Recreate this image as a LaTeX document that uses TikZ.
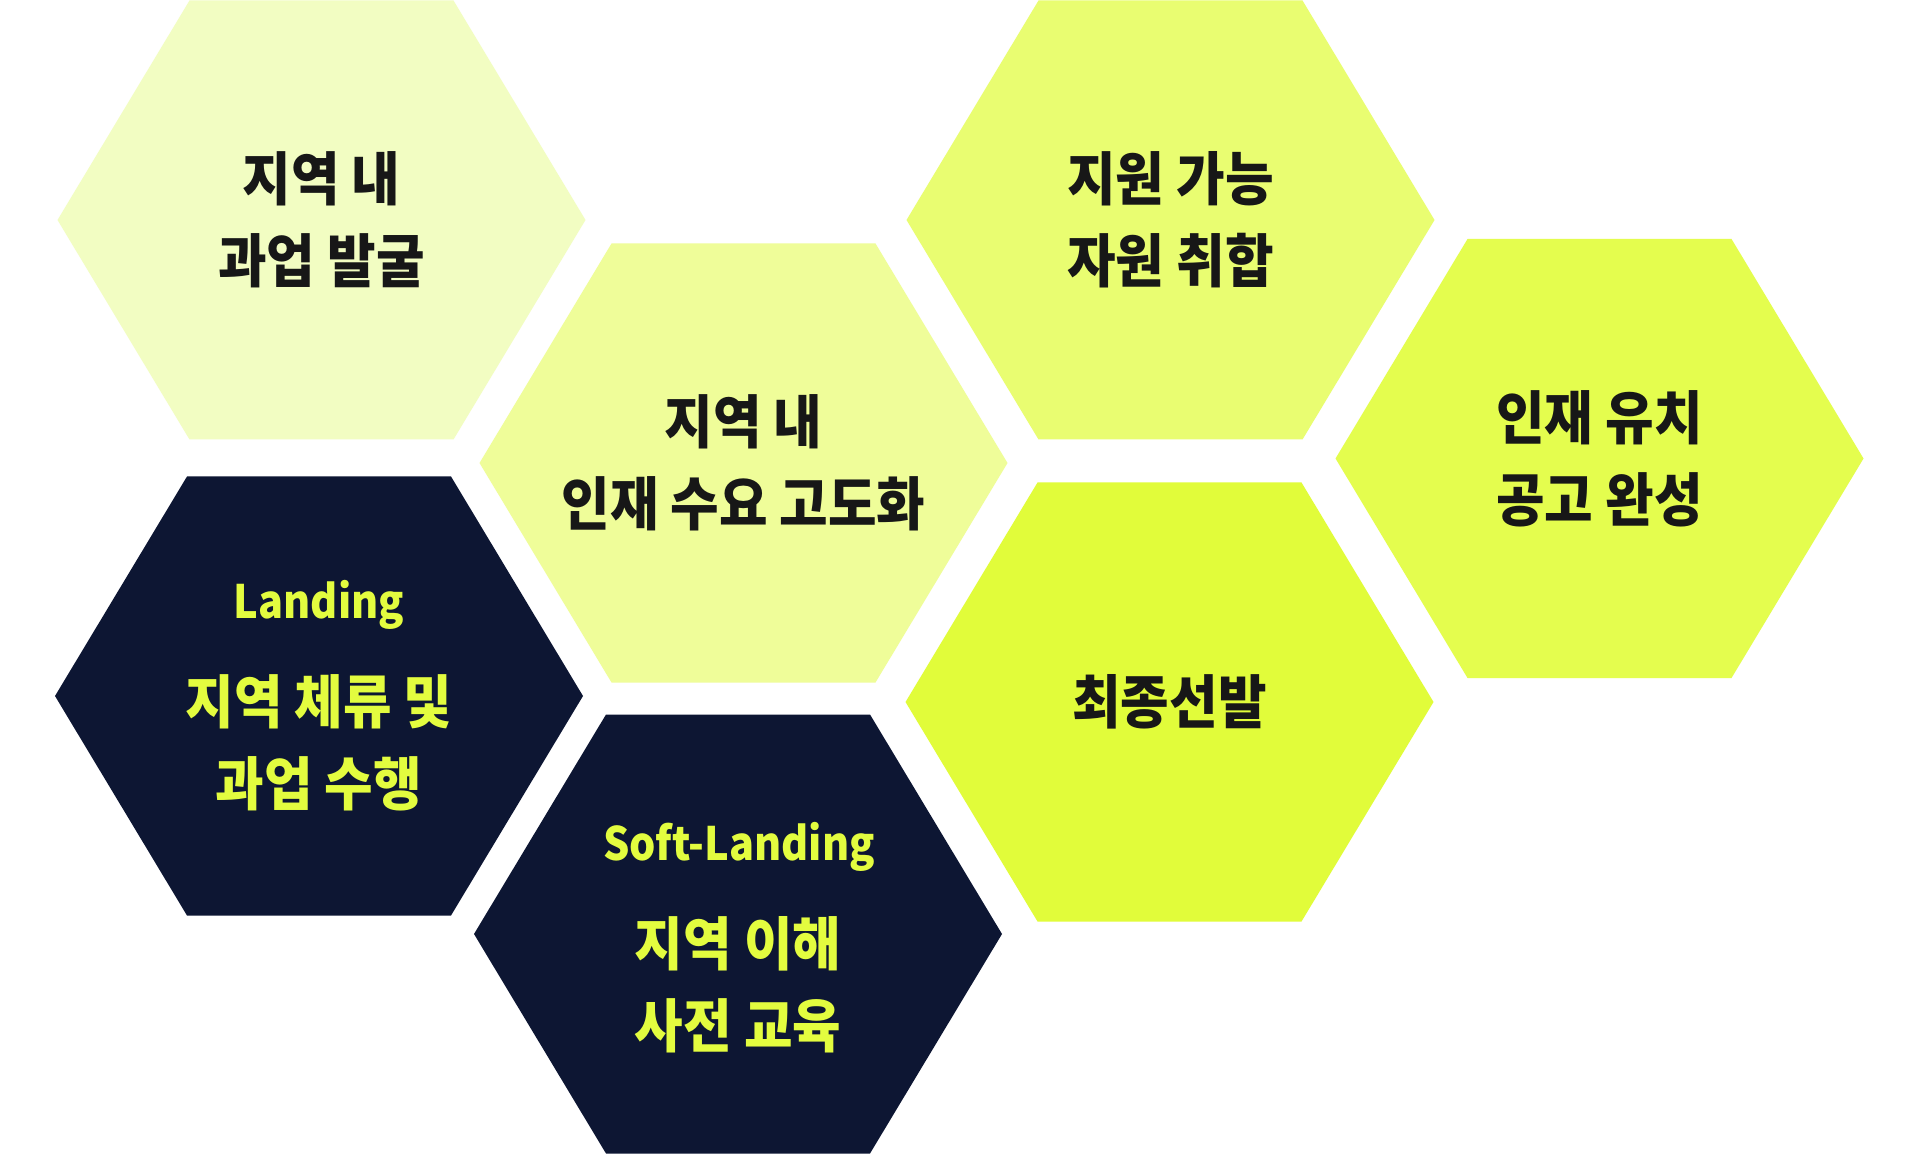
\documentclass[tikz,border=0pt]{standalone}
\usepackage{fontspec}
\newfontfamily\krfont{Noto Sans CJK KR}[FakeStretch=0.91]
\newfontfamily\latfont{Noto Sans CJK KR}[FakeStretch=0.9]
\definecolor{hexA}{HTML}{F2FDC2}
\definecolor{hexB}{HTML}{EFFD99}
\definecolor{hexC}{HTML}{E9FD71}
\definecolor{hexD}{HTML}{E4FD4E}
\definecolor{hexE}{HTML}{E1FC3A}
\definecolor{navy}{HTML}{0D1633}
\definecolor{ink}{HTML}{171717}
\definecolor{lime}{HTML}{E3FC3F}
\begin{document}
\begin{tikzpicture}[x=0.5pt,y=-0.5pt,
  hexpic/.pic={\path[pic actions] (-264,0) -- (-132,-219.5) -- (132,-219.5) -- (264,0) -- (132,219.5) -- (-132,219.5) -- cycle;},
  kr/.style={font=\krfont\bfseries\fontsize{29}{41}\selectfont, align=center, inner sep=0pt},
  lat/.style={font=\latfont\bfseries\fontsize{23}{27}\selectfont, inner sep=0pt, anchor=base, text=lime}]
\fill[white] (0,0) rectangle (1920,1154);
\useasboundingbox (0,0) rectangle (1920,1154);
% hexagons
\pic[fill=hexA] at (321.5,220) {hexpic};
\pic[fill=hexB] at (743.5,463) {hexpic};
\pic[fill=hexC] at (1170.5,220) {hexpic};
\pic[fill=hexD] at (1599.5,458.5) {hexpic};
\pic[fill=hexE] at (1169.5,702) {hexpic};
\pic[fill=navy] at (319,696) {hexpic};
\pic[fill=navy] at (738,934) {hexpic};
% texts
\node[kr, text=ink] (t1) at (321.5,220) {지역 내\\과업 발굴};
\node[kr, text=ink] (t2) at (743.5,463) {지역 내\\인재 수요 고도화};
\node[kr, text=ink] (t3) at (1170.5,220) {지원 가능\\자원 취합};
\node[kr, text=ink] (t4) at (1599.5,458.5) {인재 유치\\공고 완성};
\node[kr, text=ink] (t5) at (1169.5,702) {최종선발};
\node[lat] (l6) at (319,618) {Landing};
\node[kr, text=lime] (t6) at (319,742.5) {지역 체류 및\\과업 수행};
\node[lat] (l7) at (739,860.7) {Soft-Landing};
\node[kr, text=lime] (t7) at (738,984.5) {지역 이해\\사전 교육};
\end{tikzpicture}
\end{document}
